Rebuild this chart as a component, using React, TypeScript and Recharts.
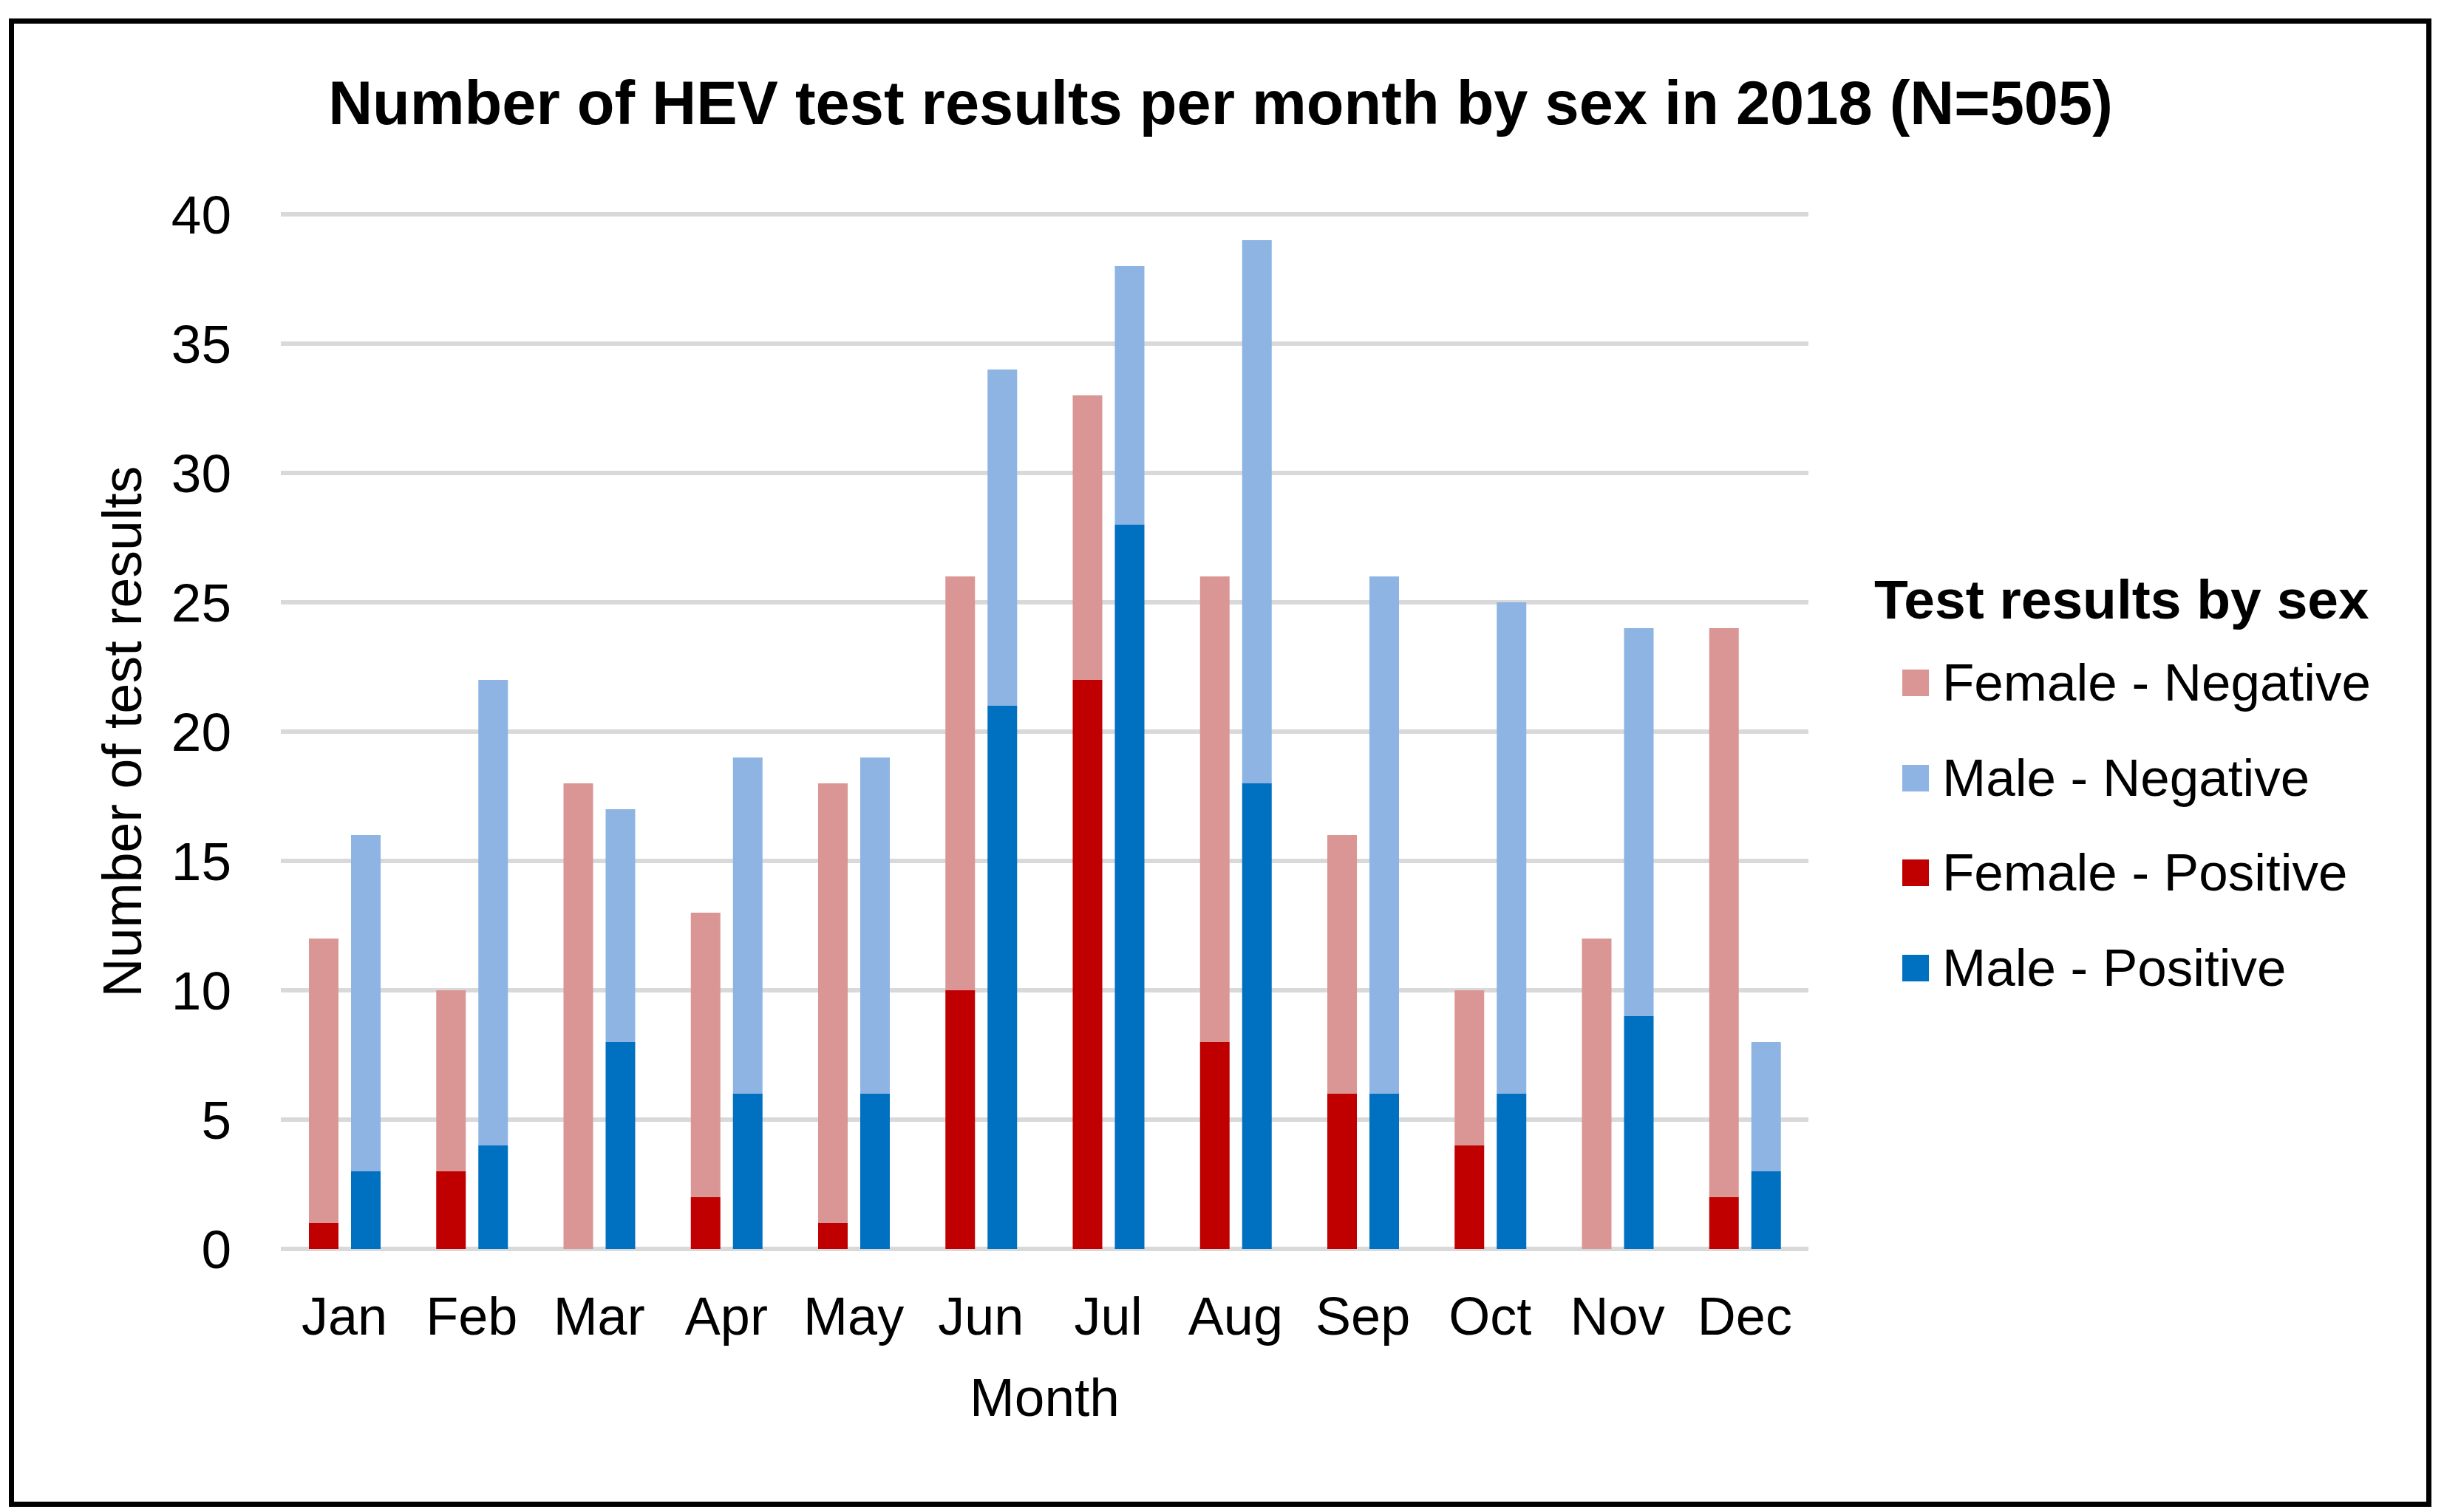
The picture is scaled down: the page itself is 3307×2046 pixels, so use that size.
import React from "react";
import {
  BarChart,
  Bar,
  XAxis,
  YAxis,
  CartesianGrid,
} from "recharts";

const MONTHS = ["Jan", "Feb", "Mar", "Apr", "May", "Jun", "Jul", "Aug", "Sep", "Oct", "Nov", "Dec"];
const FEMALE_POSITIVE = [1, 3, 0, 2, 1, 10, 22, 8, 6, 4, 0, 2];
const FEMALE_NEGATIVE = [11, 7, 18, 11, 17, 16, 11, 18, 10, 6, 12, 22];
const MALE_POSITIVE = [3, 4, 8, 6, 6, 21, 28, 18, 6, 6, 9, 3];
const MALE_NEGATIVE = [13, 18, 9, 13, 13, 13, 10, 21, 20, 19, 15, 5];
const Y_TICKS = [0, 5, 10, 15, 20, 25, 30, 35, 40];

const COLORS = {
  femaleNeg: "#DA9694",
  maleNeg: "#8EB4E3",
  femalePos: "#C00000",
  malePos: "#0070C0",
};

const LEGEND_ITEMS = [
  { label: "Female - Negative", color: COLORS.femaleNeg },
  { label: "Male - Negative", color: COLORS.maleNeg },
  { label: "Female - Positive", color: COLORS.femalePos },
  { label: "Male - Positive", color: COLORS.malePos },
];

const data = MONTHS.map((month, i) => ({
  month,
  femalePos: FEMALE_POSITIVE[i],
  femaleNeg: FEMALE_NEGATIVE[i],
  malePos: MALE_POSITIVE[i],
  maleNeg: MALE_NEGATIVE[i],
}));

const FONT = "'Liberation Sans', Arial, sans-serif";

function LegendBox() {
  return (
    <div style={{ position: "absolute", left: 2536, top: 774, width: 760, fontFamily: FONT, color: "#000" }}>
      <div style={{ fontSize: 75, fontWeight: "bold", lineHeight: "75px", height: 86 }}>
        Test results by sex
      </div>
      {LEGEND_ITEMS.map((it) => (
        <div
          key={it.label}
          style={{ display: "flex", alignItems: "center", height: 128.5, paddingLeft: 38 }}
        >
          <span
            style={{ width: 36, height: 36, background: it.color, display: "inline-block", marginRight: 18 }}
          />
          <span style={{ fontSize: 71, lineHeight: "72px" }}>{it.label}</span>
        </div>
      ))}
    </div>
  );
}

export default function App() {
  return (
    <div
      style={{
        position: "absolute",
        left: 0,
        top: 0,
        width: 3307,
        height: 2046,
        background: "#fff",
        fontFamily: FONT,
      }}
    >
      <div
        style={{
          position: "absolute",
          left: 12,
          top: 25,
          width: 3278,
          height: 2014,
          border: "7px solid #000",
          boxSizing: "border-box",
        }}
      />
      <div
        style={{
          position: "absolute",
          left: 0,
          width: 3307,
          top: 98,
          textAlign: "center",
          fontSize: 83,
          lineHeight: "84px",
          fontWeight: "bold",
        }}
      >
        <span style={{ position: "relative", left: -2 }}>
          Number of HEV test results per month by sex in 2018 (N=505)
        </span>
      </div>
      <div style={{ position: "absolute", left: 0, top: 0 }}>
        <BarChart
          width={3307}
          height={2046}
          data={data}
          margin={{ top: 290, right: 860, left: 0, bottom: 56 }}
          barSize={40}
          barGap={17}
        >
          <CartesianGrid vertical={false} stroke="#D9D9D9" strokeWidth={6} />
          <XAxis
            dataKey="month"
            axisLine={false}
            tickLine={false}
            tickSize={0}
            tickMargin={65}
            height={300}
            interval={0}
            tick={{ fontSize: 72, fill: "#000", fontFamily: FONT }}
            label={{
              content: ({ viewBox }: any) => (
                <text
                  x={viewBox.x + viewBox.width / 2}
                  y={viewBox.y + 226}
                  textAnchor="middle"
                  fontSize={73}
                  fontFamily={FONT}
                  fill="#000"
                >
                  Month
                </text>
              ),
            }}
          />
          <YAxis
            domain={[0, 40]}
            ticks={Y_TICKS}
            axisLine={false}
            tickLine={false}
            tickSize={0}
            tickMargin={67}
            width={380}
            tick={{ fontSize: 73, fill: "#000", fontFamily: FONT }}
            label={{
              content: ({ viewBox }: any) => {
                const cx = viewBox.x + 165;
                const cy = viewBox.y + viewBox.height / 2;
                return (
                  <text
                    x={cx}
                    y={cy}
                    transform={`rotate(-90 ${cx} ${cy})`}
                    textAnchor="middle"
                    dominantBaseline="central"
                    fontSize={73.5}
                    fontFamily={FONT}
                    fill="#000"
                  >
                    Number of test results
                  </text>
                );
              },
            }}
          />
          <Bar dataKey="femalePos" stackId="F" fill={COLORS.femalePos} isAnimationActive={false} />
          <Bar dataKey="femaleNeg" stackId="F" fill={COLORS.femaleNeg} isAnimationActive={false} />
          <Bar dataKey="malePos" stackId="M" fill={COLORS.malePos} isAnimationActive={false} />
          <Bar dataKey="maleNeg" stackId="M" fill={COLORS.maleNeg} isAnimationActive={false} />
        </BarChart>
      </div>
      <LegendBox />
    </div>
  );
}
